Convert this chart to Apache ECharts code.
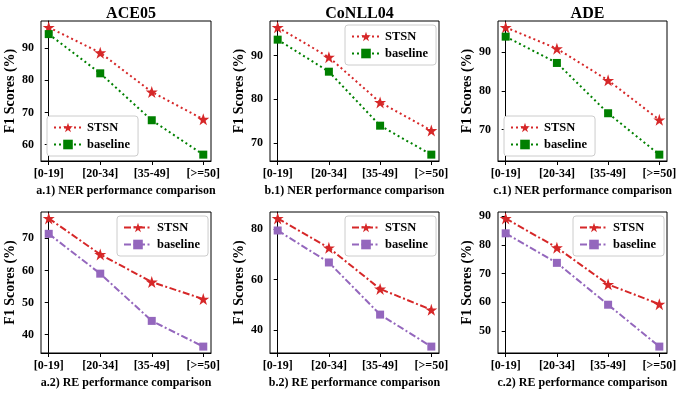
<!DOCTYPE html>
<html>
<head>
<meta charset="utf-8">
<script src="https://cdn.jsdelivr.net/npm/echarts@6/dist/echarts.min.js"></script>
<style>
  html, body { margin: 0; padding: 0; background: #fff; }
  #chart { width: 681px; height: 394px; }
</style>
</head>
<body>
<div id="chart"></div>
<script>
// length buckets on the x axis
const categories = ['[0-19]', '[20-34]', '[35-49]', '[>=50]'];

// NER F1 scores (top row)
const ace05NerSTSN = [96.5, 88.6, 76.4, 67.9];
const ace05NerBase = [94.4, 82.2, 67.6, 56.9];
const conllNerSTSN = [96.4, 89.6, 79.3, 72.9];
const conllNerBase = [93.6, 86.3, 74.0, 67.4];
const adeNerSTSN = [96.4, 90.9, 82.7, 72.5];
const adeNerBase = [94.0, 87.2, 74.2, 63.5];

// RE F1 scores (bottom row)
const ace05ReSTSN = [76.2, 65.0, 56.4, 51.1];
const ace05ReBase = [71.4, 59.0, 44.3, 36.3];
const conllReSTSN = [84.3, 72.6, 56.3, 48.0];
const conllReBase = [79.5, 66.8, 46.1, 33.4];
const adeReSTSN = [89.2, 79.0, 66.2, 59.3];
const adeReBase = [84.0, 73.7, 59.1, 44.5];

// y tick labels per panel
const ace05NerTicks = [60, 70, 80, 90];
const conllNerTicks = [70, 80, 90];
const adeNerTicks = [70, 80, 90];
const ace05ReTicks = [40, 50, 60, 70];
const conllReTicks = [40, 60, 80];
const adeReTicks = [50, 60, 70, 80, 90];

const datasetTitles = ['ACE05', 'CoNLL04', 'ADE'];
const xNames = [
  'a.1) NER performance comparison', 'b.1) NER performance comparison', 'c.1) NER performance comparison',
  'a.2) RE performance comparison', 'b.2) RE performance comparison', 'c.2) RE performance comparison'
];

const FONT = '"Liberation Serif", "Times New Roman", serif';
const STAR = 'path://M50,0 L61.8,35.1 L98.9,35.1 L68.9,56.8 L80.3,91.9 L50,70.2 L19.7,91.9 L31.1,56.8 L1.1,35.1 L38.2,35.1 Z';

const panels = [
  { stsn: ace05NerSTSN, base: ace05NerBase, ticks: ace05NerTicks, row: 0, col: 0, legend: 'bl' },
  { stsn: conllNerSTSN, base: conllNerBase, ticks: conllNerTicks, row: 0, col: 1, legend: 'tr' },
  { stsn: adeNerSTSN, base: adeNerBase, ticks: adeNerTicks, row: 0, col: 2, legend: 'bl' },
  { stsn: ace05ReSTSN, base: ace05ReBase, ticks: ace05ReTicks, row: 1, col: 0, legend: 'tr' },
  { stsn: conllReSTSN, base: conllReBase, ticks: conllReTicks, row: 1, col: 1, legend: 'tr' },
  { stsn: adeReSTSN, base: adeReBase, ticks: adeReTicks, row: 1, col: 2, legend: 'tr' }
];

const colLeft = [41, 270, 498];
const colWidth = [170, 169, 169];
const rowTop = [21, 212];
const rowHeight = [140, 141];

const grid = [], xAxis = [], yAxis = [], series = [], legend = [], title = [];

datasetTitles.forEach((t, i) => {
  title.push({
    text: t,
    left: colLeft[i] + colWidth[i] / 2,
    top: 1,
    textAlign: 'center',
    textStyle: { fontFamily: FONT, fontWeight: 'bold', fontSize: 16, color: '#000' }
  });
});

panels.forEach((p, i) => {
  const left = colLeft[p.col], top = rowTop[p.row];
  const w = colWidth[p.col], h = rowHeight[p.row];
  grid.push({ left: left, top: top, width: w, height: h, show: true, borderColor: '#000', borderWidth: 1, backgroundColor: '#fff' });

  const all = p.stsn.concat(p.base);
  const lo = Math.min(...all), hi = Math.max(...all), pad = (hi - lo) * 0.05;

  xAxis.push({
    type: 'value', gridIndex: i, min: -0.15, max: 3.15,
    name: xNames[i], nameLocation: 'middle', nameGap: 24,
    nameTextStyle: { fontFamily: FONT, fontWeight: 'bold', fontSize: 12, color: '#000' },
    axisLine: { show: true, lineStyle: { color: '#000', width: 1 } },
    axisTick: { show: true, length: 4, customValues: [0, 1, 2, 3], lineStyle: { color: '#000' } },
    axisLabel: {
      customValues: [0, 1, 2, 3], margin: 7,
      formatter: v => categories[Math.round(v)],
      fontFamily: FONT, fontWeight: 'bold', fontSize: 12, color: '#000'
    },
    splitLine: { show: false }
  });
  yAxis.push({
    type: 'value', gridIndex: i, min: lo - pad, max: hi + pad,
    name: 'F1 Scores (%)', nameLocation: 'middle', nameGap: 24, nameRotate: 90,
    nameTextStyle: { fontFamily: FONT, fontWeight: 'bold', fontSize: 14, color: '#000' },
    axisLine: { show: true, lineStyle: { color: '#000', width: 1 } },
    axisTick: { show: true, length: 4, customValues: p.ticks, lineStyle: { color: '#000' } },
    axisLabel: {
      customValues: p.ticks, margin: 7,
      fontFamily: FONT, fontWeight: 'bold', fontSize: 12, color: '#000'
    },
    splitLine: { show: false }
  });

  const topRow = p.row === 0;
  const baseColor = topRow ? '#008000' : '#9467bd';
  const dash = topRow ? [2, 3] : [7, 2.5, 2, 2.5];
  // unique names per panel so each legend picks its own colours
  const sName = i + '|STSN', bName = i + '|baseline';
  series.push({
    name: sName, type: 'line', xAxisIndex: i, yAxisIndex: i,
    data: p.stsn.map((v, k) => [k, v]),
    symbol: STAR, symbolSize: 12,
    itemStyle: { color: '#d62728' },
    lineStyle: { color: '#d62728', width: 2, type: dash },
    animation: false
  });
  series.push({
    name: bName, type: 'line', xAxisIndex: i, yAxisIndex: i,
    data: p.base.map((v, k) => [k, v]),
    symbol: 'rect', symbolSize: 8,
    itemStyle: { color: baseColor },
    lineStyle: { color: baseColor, width: 2, type: dash },
    animation: false
  });

  let lx, ly;
  if (p.legend === 'bl') { lx = left + 6; ly = top + h - 45; }
  else { lx = left + w - 94; ly = top + 4; }
  legend.push({
    orient: 'vertical', left: lx, top: ly,
    data: [sName, bName],
    formatter: n => n.split('|')[1],
    itemWidth: 28, itemHeight: 12, itemGap: 4,
    padding: [5, 8, 5, 6],
    borderColor: '#cccccc', borderWidth: 1, borderRadius: 3,
    backgroundColor: '#fff',
    textStyle: { fontFamily: FONT, fontWeight: 'bold', fontSize: 12.5, color: '#000' }
  });
});

const chart = echarts.init(document.getElementById('chart'));
chart.setOption({ animation: false, title, grid, xAxis, yAxis, series, legend });
</script>
</body>
</html>
